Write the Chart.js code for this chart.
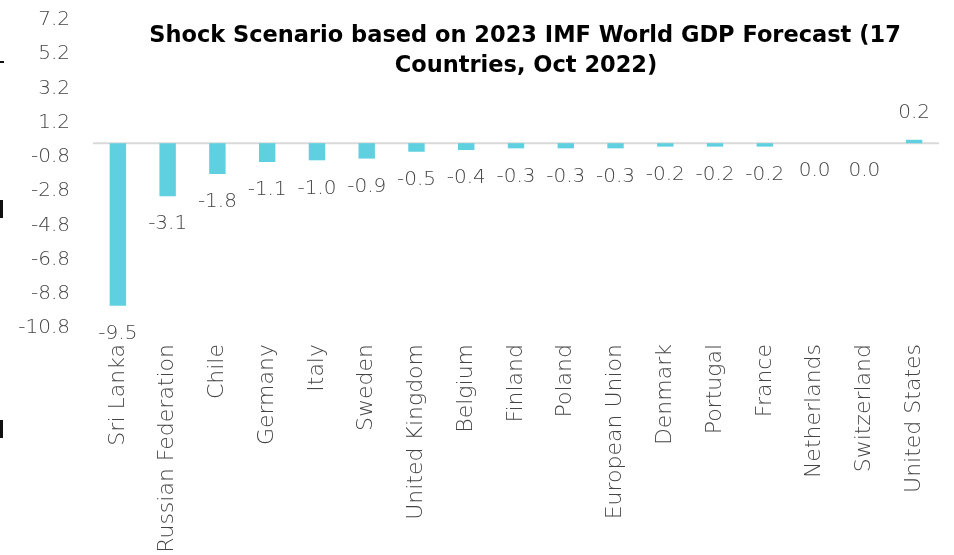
<!DOCTYPE html>
<html>
<head>
<meta charset="utf-8">
<script src="https://cdn.jsdelivr.net/npm/chart.js@4.4.0/dist/chart.umd.min.js"></script>
<style>
  html, body { margin: 0; padding: 0; background: #ffffff; }
  #wrap { width: 954px; height: 555px; position: relative; }
</style>
</head>
<body>
<div id="wrap"><canvas id="myChart"></canvas></div>
<script>
'use strict';

// categories, values and tick labels
let countries = ['Sri Lanka', 'Russian Federation', 'Chile', 'Germany', 'Italy', 'Sweden',
  'United Kingdom', 'Belgium', 'Finland', 'Poland', 'European Union', 'Denmark',
  'Portugal', 'France', 'Netherlands', 'Switzerland', 'United States'];
let gdpShock = [-9.5, -3.1, -1.8, -1.1, -1.0, -0.9, -0.5, -0.4, -0.3, -0.3, -0.3,
  -0.2, -0.2, -0.2, 0.0, 0.0, 0.2];
let yTicks = [7.2, 5.2, 3.2, 1.2, -0.8, -2.8, -4.8, -6.8, -8.8, -10.8];
let titleLines = ['Shock Scenario based on 2023 IMF World GDP Forecast (17', 'Countries, Oct 2022)'];

let barColor = '#5fd0df';
let textGray = '#444444';
let fontFamily = '"DejaVu Sans", sans-serif';
let labelFont = '200 20px ' + fontFamily;

// draws the zero line, the value labels and the title
let extras = {
  id: 'extras',
  beforeDatasetsDraw(chart) {
    let ctx = chart.ctx;
    let area = chart.chartArea;
    let zeroY = chart.scales.y.getPixelForValue(0);
    ctx.save();
    ctx.strokeStyle = '#d9d9d9';
    ctx.lineWidth = 2;
    ctx.beginPath();
    ctx.moveTo(area.left, zeroY);
    ctx.lineTo(area.right, zeroY);
    ctx.stroke();
    ctx.restore();
  },
  afterDatasetsDraw(chart) {
    let ctx = chart.ctx;
    let meta = chart.getDatasetMeta(0);
    ctx.save();
    ctx.font = labelFont;
    ctx.fillStyle = textGray;
    ctx.textAlign = 'center';
    ctx.textBaseline = 'middle';
    for (let i = 0; i < meta.data.length; i++) {
      let bar = meta.data[i];
      let v = gdpShock[i];
      let y = v > 0 ? bar.y - 27 : bar.y + 28;
      ctx.fillText(v.toFixed(1), bar.x, y);
    }

    // title
    ctx.font = 'bold 22.5px ' + fontFamily;
    ctx.fillStyle = '#000000';
    ctx.fillText(titleLines[0], 525, 36);
    ctx.fillText(titleLines[1], 526, 66);

    // little cut-off marks on the left edge
    ctx.fillStyle = '#111111';
    ctx.fillRect(0, 61, 4, 2);
    ctx.fillRect(0, 200, 3, 18);
    ctx.fillRect(0, 420, 3, 18);
    ctx.restore();
  }
};

const ctx = document.getElementById('myChart');

new Chart(ctx, {
  type: 'bar',
  data: {
    labels: countries,
    datasets: [{
      data: gdpShock,
      backgroundColor: barColor,
      borderWidth: 0,
      barPercentage: 0.33,
      categoryPercentage: 1
    }]
  },
  options: {
    responsive: true,
    maintainAspectRatio: false,
    animation: false,
    layout: { padding: { top: 20, right: 15, left: 0, bottom: 0 } },
    plugins: {
      legend: { display: false },
      title: { display: false },
      tooltip: { enabled: false }
    },
    scales: {
      x: {
        grid: { display: false, drawTicks: false },
        border: { display: false },
        ticks: {
          color: textGray,
          font: { family: fontFamily, size: 22, weight: 200 },
          minRotation: 90,
          maxRotation: 90,
          autoSkip: false,
          padding: 16
        },
        afterFit(scale) {
          scale.height = 227;
          scale.paddingLeft = 0;
          scale.paddingRight = 0;
        }
      },
      y: {
        min: -10.8,
        max: 7.2,
        grid: { display: false, drawTicks: false },
        border: { display: false },
        afterBuildTicks(scale) {
          scale.ticks = yTicks.map(v => ({ value: v }));
        },
        ticks: {
          color: textGray,
          font: { family: fontFamily, size: 20, weight: 200 },
          padding: 23,
          callback: v => v.toFixed(1)
        },
        afterFit(scale) {
          scale.width = 93;
          scale.paddingTop = 0;
          scale.paddingBottom = 0;
        }
      }
    }
  },
  plugins: [extras]
});
</script>
</body>
</html>
